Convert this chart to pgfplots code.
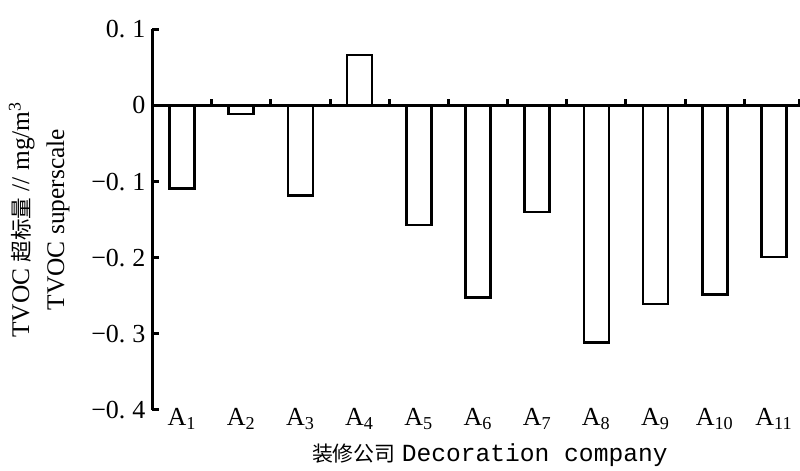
\documentclass[border=0pt]{standalone}
\usepackage{fontspec}
\setmainfont{Liberation Serif}
\setmonofont{Liberation Mono}
\newfontfamily\cjk[Scale=0.85]{Noto Sans CJK SC}
\usepackage{pgfplots}
\pgfplotsset{compat=1.18}
\newcommand{\dg}{\hspace{3.5pt}}
\begin{document}
\begin{tikzpicture}
\begin{axis}[
  scale only axis,
  width=323.75pt, height=190.35pt,
  xmin=-0.5, xmax=10.44, ymin=-0.4, ymax=0.1,
  clip=false,
  axis x line=bottom, axis y line=left,
  x axis line style={draw=none},
  y axis line style={-, line width=1.5pt},
  xtick={0,1,2,3,4,5,6,7,8,9,10},
  xticklabels={A\textsubscript{1},A\textsubscript{2},A\textsubscript{3},A\textsubscript{4},A\textsubscript{5},A\textsubscript{6},A\textsubscript{7},A\textsubscript{8},A\textsubscript{9},A\textsubscript{10},A\textsubscript{11}},
  xtick style={draw=none},
  xticklabel style={anchor=center, yshift=-1pt, font=\fontsize{13}{15}\selectfont},
  ytick={-0.4,-0.3,-0.2,-0.1,0,0.1},
  yticklabels={{−0.\dg 4},{−0.\dg 3},{−0.\dg 2},{−0.\dg 1},{0},{0.\dg 1}},
  yticklabel style={font=\fontsize{13}{15}\selectfont},
  ytick style={line width=1.5pt, black},
  tick align=inside,
  major tick length=3.5pt,
  ylabel={TVOC {\cjk 超标量} // mg/m\textsuperscript{3}\\TVOC superscale},
  ylabel style={at={(axis description cs:-0.175,0.5)}, anchor=center, align=center, font=\fontsize{12.7}{17.5}\selectfont},
  xlabel={{\cjk 装修公司} \texttt{Decoration company}},
  xlabel style={at={(axis description cs:0.521,-0.118)}, anchor=center, font=\fontsize{12.3}{14}\selectfont},
  ybar, bar width=12.5pt,
]
\addplot[draw=black, fill=white, line width=1.3pt] coordinates {
  (0,-0.109) (1,-0.011) (2,-0.118) (3,0.066) (4,-0.157) (5,-0.252)
  (6,-0.140) (7,-0.311) (8,-0.261) (9,-0.248) (10,-0.199)
};
\draw[line width=1.5pt] (axis cs:-0.5,0) -- (axis cs:10.44,0);
\pgfplotsinvokeforeach{0.5,1.5,2.5,3.5,4.5,5.5,6.5,7.5,8.5,9.5,10.44}{
  \draw[line width=1.5pt] (axis cs:#1,0) -- ++(0pt,3pt);
}
\end{axis}
\pgfresetboundingbox
\path[use as bounding box] ([shift={(-76.25pt,-30.5pt)}]current axis.south west) rectangle ++(400pt,235.5pt);
\end{tikzpicture}
\end{document}
